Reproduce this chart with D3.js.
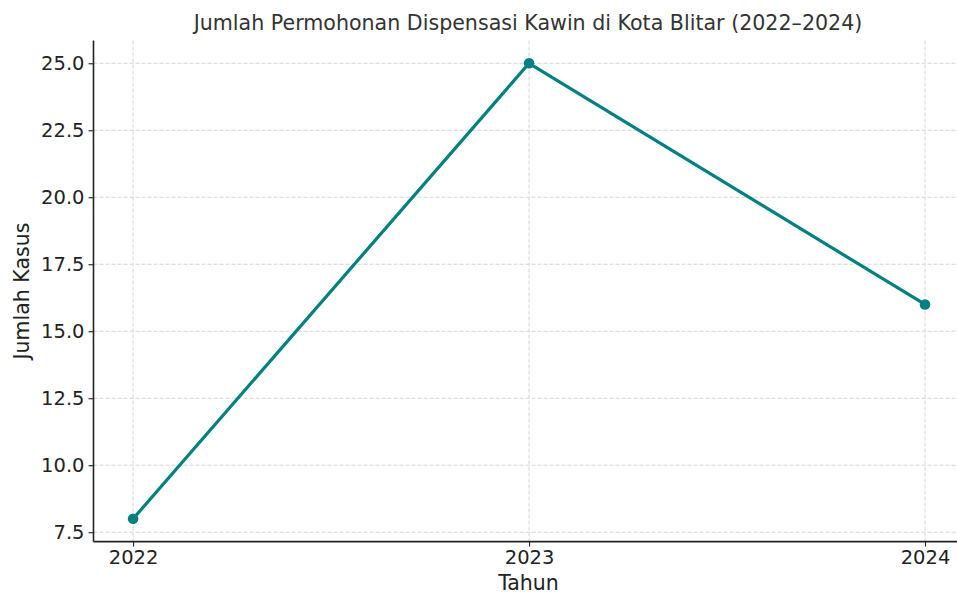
<!DOCTYPE html>
<html><head><meta charset="utf-8">
<script src="https://cdn.jsdelivr.net/npm/d3@7"></script>
<style>body{margin:0;background:#fff}svg{display:block}text{font-family:"DejaVu Sans",sans-serif}</style>
</head><body><svg id="c" width="957" height="594"></svg>
<script>
const years = [2022, 2023, 2024];
const cases = [8, 25, 16];
const yTicks = [7.5, 10.0, 12.5, 15.0, 17.5, 20.0, 22.5, 25.0];
const title = "Jumlah Permohonan Dispensasi Kawin di Kota Blitar (2022–2024)";
const xLabel = "Tahun";
const yLabel = "Jumlah Kasus";

const svg = d3.select("#c");
const L = 93.5, R = 964.6, T = 40.5, B = 541.6;
const x = d3.scaleLinear().domain([2021.9, 2024.1]).range([L, R]);
const y = d3.scaleLinear().domain([7.15, 25.85]).range([B, T]);
const ink = "#222";

// grid
const g = svg.append("g");
g.selectAll(".gx").data(years).join("line")
  .attr("x1", d => x(d)).attr("x2", d => x(d)).attr("y1", T).attr("y2", B)
  .attr("stroke", "#cfcfcf").attr("stroke-width", 0.9).attr("stroke-dasharray", "4,2");
g.selectAll(".gy").data(yTicks).join("line")
  .attr("x1", L).attr("x2", R).attr("y1", d => y(d)).attr("y2", d => y(d))
  .attr("stroke", "#cfcfcf").attr("stroke-width", 0.9).attr("stroke-dasharray", "4,2");

// axes
const xa = svg.append("g").attr("transform", `translate(0,${B})`)
  .call(d3.axisBottom(x).tickValues(years).tickFormat(d3.format("d")).tickSize(5).tickPadding(4).tickSizeOuter(0));
const ya = svg.append("g").attr("transform", `translate(${L},0)`)
  .call(d3.axisLeft(y).tickValues(yTicks).tickFormat(d3.format(".1f")).tickSize(5).tickPadding(4).tickSizeOuter(0));
[xa, ya].forEach(a => {
  a.select(".domain").attr("stroke", ink).attr("stroke-width", 1.6);
  a.selectAll(".tick line").attr("stroke", ink).attr("stroke-width", 1.1);
  a.selectAll(".tick text").attr("fill", ink).attr("font-size", 19.5).attr("font-family", "DejaVu Sans");
});
ya.select(".domain").attr("d", `M0,${T}V${B}`);
xa.select(".domain").attr("d", `M${L},0H${R}`);

// line
const line = d3.line().x((d, i) => x(years[i])).y(d => y(d));
svg.append("path").datum(cases).attr("d", line)
  .attr("fill", "none").attr("stroke", "#008080").attr("stroke-width", 3.2).attr("stroke-linejoin", "round");
svg.selectAll(".pt").data(cases).join("circle")
  .attr("cx", (d, i) => x(years[i])).attr("cy", d => y(d)).attr("r", 5.3).attr("fill", "#008080");

// labels
svg.append("text").attr("x", 528).attr("y", 30).attr("text-anchor", "middle")
  .attr("font-size", 20.6).attr("fill", "#333").text(title);
svg.append("text").attr("x", 528.5).attr("y", 590).attr("text-anchor", "middle")
  .attr("font-size", 20.5).attr("fill", ink).text(xLabel);
svg.append("text").attr("transform", `translate(29,${(T + B) / 2}) rotate(-90)`).attr("text-anchor", "middle")
  .attr("font-size", 20.5).attr("fill", ink).text(yLabel);
</script></body></html>
